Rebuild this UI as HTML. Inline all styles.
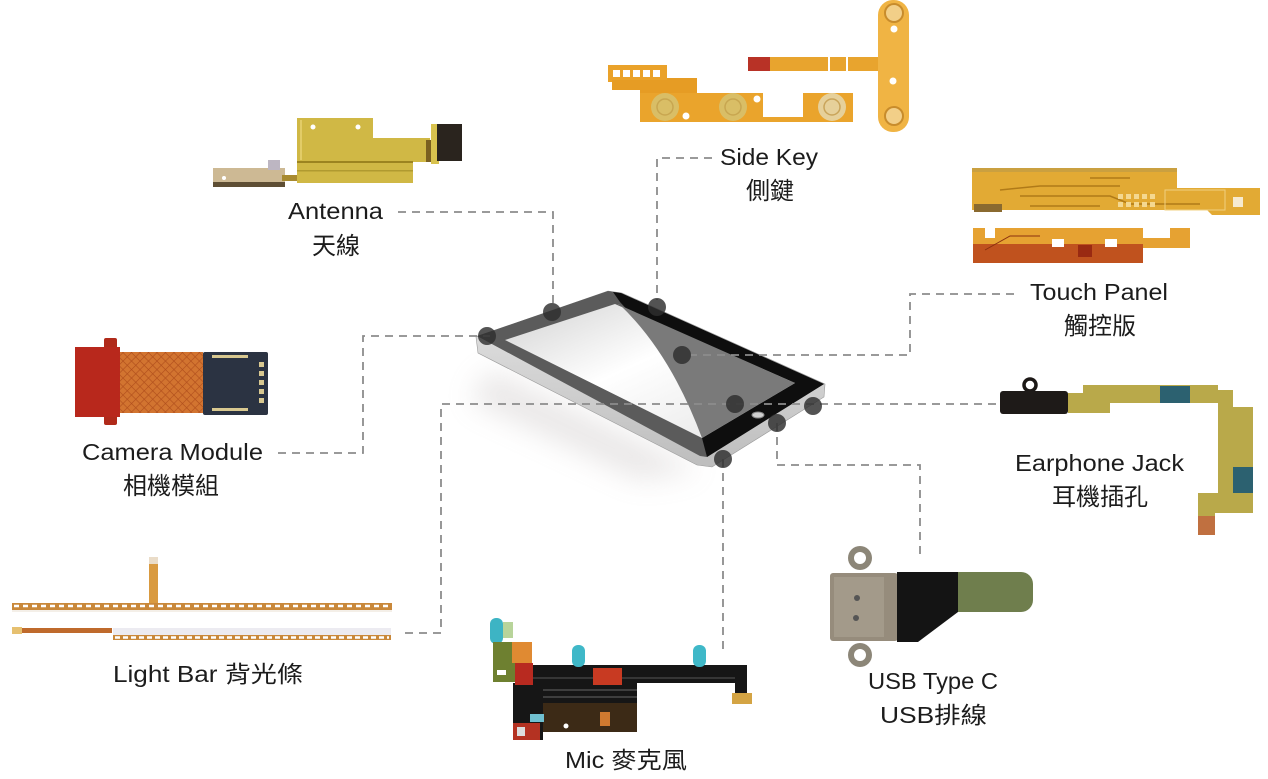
<!DOCTYPE html>
<html><head><meta charset="utf-8"><style>
html,body{margin:0;padding:0;background:#fff;}
svg{display:block;}
text{font-family:"Liberation Sans","Noto Sans CJK TC",sans-serif;fill:#1c1c1c;}
</style></head><body>
<svg width="1268" height="779" viewBox="0 0 1268 779" xmlns="http://www.w3.org/2000/svg">
<defs>
<linearGradient id="silver" x1="0" y1="0" x2="0" y2="1"><stop offset="0" stop-color="#e6e6e6"/><stop offset="1" stop-color="#bdbdbd"/></linearGradient>
<linearGradient id="scr" x1="0" y1="0" x2="1" y2="1"><stop offset="0" stop-color="#d2d2d2"/><stop offset="0.45" stop-color="#ffffff"/><stop offset="1" stop-color="#e4e4e4"/></linearGradient>
<filter id="blur" x="-50%" y="-50%" width="200%" height="200%"><feGaussianBlur stdDeviation="14"/></filter>
<pattern id="mesh" width="6" height="6" patternUnits="userSpaceOnUse" patternTransform="rotate(45)"><rect width="6" height="6" fill="#d27430"/><path d="M0,0 H6 M0,0 V6" stroke="#b04e1c" stroke-width="1.2"/></pattern>
</defs>

<!-- ANTENNA -->
<g>
<rect x="213" y="168" width="72" height="19" fill="#cdb994"/>
<rect x="213" y="182" width="72" height="5" fill="#5e4e34"/>
<circle cx="224" cy="178" r="2" fill="#fff"/>
<rect x="268" y="160" width="12" height="10" fill="#bdb6c2"/>
<rect x="282" y="175" width="16" height="6" fill="#a88a30"/>
<path d="M297,118 H373 V138 H430 V162 H413 V183 H297 Z" fill="#d0b845"/>
<rect x="297" y="161" width="116" height="2" fill="#9c8420"/>
<rect x="297" y="170" width="116" height="1.5" fill="#b09a30"/>
<rect x="300" y="120" width="2" height="40" fill="#e2cc68"/>
<circle cx="313" cy="127" r="2.5" fill="#fff"/>
<circle cx="358" cy="127" r="2.5" fill="#fff"/>
<rect x="426" y="140" width="6" height="22" fill="#7a6020"/>
<rect x="431" y="124" width="8" height="40" fill="#d8c24e"/>
<rect x="437" y="124" width="25" height="37" fill="#2a241e"/>
</g>

<!-- SIDE KEY -->
<g>
<rect x="608" y="65" width="59" height="17" fill="#eaa22a"/>
<g fill="#fff"><rect x="613" y="70" width="7" height="7"/><rect x="623" y="70" width="7" height="7"/><rect x="633" y="70" width="7" height="7"/><rect x="643" y="70" width="7" height="7"/><rect x="653" y="70" width="7" height="7"/></g>
<path d="M612,80 H667 V78 H697 V96 H640 V90 H612 Z" fill="#e69c24"/>
<path d="M640,93 H763 V117 H803 V93 H853 V122 H640 Z" fill="#eaa42c"/>
<circle cx="665" cy="107" r="14" fill="#d9be66"/><circle cx="665" cy="107" r="8" fill="none" stroke="#c8a650" stroke-width="1.5"/>
<circle cx="733" cy="107" r="14" fill="#d9be66"/><circle cx="733" cy="107" r="8" fill="none" stroke="#c8a650" stroke-width="1.5"/>
<circle cx="832" cy="107" r="14" fill="#e6d09a"/><circle cx="832" cy="107" r="8" fill="none" stroke="#c9a45a" stroke-width="1.5"/>
<circle cx="686" cy="116" r="3.5" fill="#fff"/><circle cx="757" cy="99" r="3.5" fill="#fff"/>
<rect x="748" y="57" width="22" height="14" fill="#b83226"/>
<rect x="770" y="57" width="110" height="14" fill="#e8a42e"/>
<rect x="828" y="57" width="2" height="14" fill="#fff"/><rect x="846" y="57" width="2" height="14" fill="#fff"/>
<rect x="878" y="0" width="31" height="132" rx="15" fill="#f0b444"/>
<circle cx="894" cy="13" r="9" fill="#f2cf88" stroke="#c88c2c" stroke-width="2"/>
<circle cx="894" cy="116" r="9" fill="#f2cf88" stroke="#c88c2c" stroke-width="2"/>
<circle cx="894" cy="29" r="3.5" fill="#fff"/><circle cx="893" cy="81" r="3.5" fill="#fff"/>
</g>

<!-- TOUCH PANEL -->
<g>
<path d="M972,168 H1177 V188 H1260 V215 H1212 L1207,210 H972 Z" fill="#e2aa34"/>
<rect x="972" y="168" width="205" height="4" fill="#caa040"/>
<path d="M1000,190 L1040,186 H1120 M1020,196 H1110 L1130,204 H1200 M1090,178 H1130 M1030,206 H1100" stroke="#b07a18" stroke-width="1.5" fill="none"/>
<g fill="#f4d890"><rect x="1118" y="194" width="5" height="5"/><rect x="1126" y="194" width="5" height="5"/><rect x="1134" y="194" width="5" height="5"/><rect x="1142" y="194" width="5" height="5"/><rect x="1150" y="194" width="5" height="5"/><rect x="1118" y="202" width="5" height="5"/><rect x="1126" y="202" width="5" height="5"/><rect x="1134" y="202" width="5" height="5"/><rect x="1142" y="202" width="5" height="5"/><rect x="1150" y="202" width="5" height="5"/></g>
<rect x="1165" y="190" width="60" height="20" fill="none" stroke="#f0d080" stroke-width="1"/>
<rect x="1233" y="197" width="10" height="10" fill="#f6ead0"/>
<rect x="974" y="204" width="28" height="8" fill="#8a6a30"/>
<path d="M973,228 H985 V238 H995 V228 H1143 V238 H1170 V228 H1190 V248 H1143 V263 H973 Z" fill="#e6a232"/>
<rect x="973" y="244" width="170" height="19" fill="#c0521e"/>
<path d="M985,250 L1010,236 H1040" stroke="#8a3010" stroke-width="1" fill="none"/>
<rect x="1052" y="239" width="12" height="8" fill="#fff"/>
<rect x="1105" y="239" width="12" height="8" fill="#fff"/>
<rect x="1078" y="245" width="14" height="12" fill="#9a2a12"/>
</g>

<!-- CAMERA -->
<g>
<rect x="104" y="338" width="13" height="87" rx="2" fill="#b02a1a"/>
<rect x="75" y="347" width="45" height="70" fill="#b8281c"/>
<rect x="120" y="352" width="83" height="61" fill="url(#mesh)"/>
<rect x="203" y="352" width="65" height="63" rx="2" fill="#2b3342"/>
<g fill="#d8c890"><rect x="259" y="362" width="5" height="5"/><rect x="259" y="371" width="5" height="5"/><rect x="259" y="380" width="5" height="5"/><rect x="259" y="389" width="5" height="5"/><rect x="259" y="398" width="5" height="5"/><rect x="212" y="355" width="36" height="3"/><rect x="212" y="408" width="36" height="3"/></g>
</g>

<!-- EARPHONE JACK -->
<g>
<path d="M1068,393 H1083 V385 H1218 V390 H1233 V407 H1253 V513 H1215 V535 H1198 V493 H1218 V403 H1110 V413 H1068 Z" fill="#b9a94a"/>
<rect x="1160" y="386" width="30" height="17" fill="#2c6170"/>
<rect x="1233" y="467" width="20" height="26" fill="#2c6170"/>
<rect x="1198" y="516" width="17" height="19" fill="#c07040"/>
<circle cx="1030" cy="385" r="6" fill="none" stroke="#1c1816" stroke-width="3.5"/>
<rect x="1000" y="391" width="68" height="23" rx="3" fill="#1e1a18"/>
</g>

<!-- LIGHT BAR -->
<g>
<rect x="149" y="557" width="9" height="48" fill="#d99a40"/>
<rect x="149" y="557" width="9" height="7" fill="#eadcc8"/>
<rect x="12" y="603" width="380" height="7" fill="#c9883a"/>
<line x1="14" y1="606" x2="390" y2="606" stroke="#fff" stroke-width="2.5" stroke-dasharray="5 4"/>
<rect x="12" y="610" width="380" height="2" fill="#f4efe8"/>
<rect x="12" y="628" width="100" height="5" fill="#bf6a2c"/>
<rect x="12" y="627" width="10" height="7" fill="#e6c070"/>
<rect x="113" y="628" width="278" height="12" fill="#ecebf1"/>
<rect x="113" y="635" width="278" height="5" fill="#c9883a"/>
<line x1="115" y1="637.5" x2="389" y2="637.5" stroke="#fff" stroke-width="2.5" stroke-dasharray="5 3"/>
</g>

<!-- MIC -->
<g>
<rect x="490" y="618" width="13" height="26" rx="6" fill="#3db4c4"/>
<rect x="503" y="622" width="10" height="16" fill="#b8d49a"/>
<rect x="493" y="642" width="22" height="40" fill="#6e8030"/>
<rect x="497" y="670" width="9" height="5" fill="#fff"/>
<rect x="512" y="642" width="20" height="21" fill="#e08a32"/>
<path d="M533,665 H747 V693 H735 V683 H637 V732 H543 V740 H513 V683 H533 Z" fill="#161616"/>
<rect x="515" y="663" width="18" height="22" fill="#b82a20"/>
<rect x="543" y="703" width="94" height="29" fill="#3c2a16"/>
<rect x="600" y="712" width="10" height="14" fill="#d07a30"/>
<circle cx="566" cy="726" r="2.5" fill="#fff"/>
<line x1="533" y1="678" x2="735" y2="678" stroke="#555" stroke-width="1"/>
<line x1="543" y1="690" x2="637" y2="690" stroke="#666" stroke-width="1"/>
<line x1="543" y1="697" x2="637" y2="697" stroke="#666" stroke-width="1"/>
<rect x="572" y="645" width="13" height="22" rx="6" fill="#3fb8c8"/>
<rect x="693" y="645" width="13" height="22" rx="6" fill="#3fb8c8"/>
<rect x="593" y="668" width="29" height="17" fill="#c83a22"/>
<rect x="732" y="693" width="20" height="11" fill="#d4a444"/>
<rect x="513" y="723" width="27" height="17" fill="#b43222"/>
<rect x="517" y="727" width="8" height="9" fill="#ddd"/>
<rect x="530" y="714" width="14" height="8" fill="#70c0d0"/>
</g>

<!-- USB -->
<g>
<circle cx="860" cy="558" r="12" fill="#8c8678"/><circle cx="860" cy="558" r="6" fill="#fff"/>
<circle cx="860" cy="655" r="12" fill="#8c8678"/><circle cx="860" cy="655" r="6" fill="#fff"/>
<rect x="830" y="573" width="68" height="68" rx="3" fill="#968c7c"/>
<rect x="834" y="577" width="50" height="60" fill="#a39a8a"/>
<circle cx="857" cy="598" r="3" fill="#555"/><circle cx="856" cy="618" r="3" fill="#555"/>
<path d="M897,572 H958 V612 L918,642 H897 Z" fill="#141414"/>
<path d="M958,572 H1021 A12,12 0 0 1 1033,584 V600 A12,12 0 0 1 1021,612 H958 Z" fill="#6f7e4d"/>
</g>

<!-- TABLET -->
<g>
<polygon points="490,370 700,470 640,480 470,400" fill="#b8b0b0" opacity="0.3" filter="url(#blur)"/>
<polygon points="476,337 608,291 622,293 825,384 824,397 712,467 697,465 478,353" fill="url(#silver)" stroke="#9a9a9a" stroke-width="0.6"/>
<polygon points="477,336 608,291 621,293 824,384 707,457 700,456" fill="#5b5b5b"/>
<path d="M613,292 L621,293 L824,384 L707,457 L702,438 Q668,352 620,302 Z" fill="#0e0e0e"/>
<polygon points="505,340 615,304 795,383 702,438" fill="url(#scr)"/>
<path d="M617,304 L795,383 L702,438 Q670,352 619,304 Z" fill="#7a7a7a"/>
<ellipse cx="758" cy="415" rx="6" ry="3" fill="#cfcfcf" stroke="#888" stroke-width="1"/>
</g>

<!-- CONNECTORS -->
<g fill="none" stroke="#8c8c8c" stroke-width="1.8" stroke-dasharray="8 6">
<path d="M398,212 H553 V305"/>
<path d="M712,158 H657 V300"/>
<path d="M1014,294 H910 V355 H690"/>
<path d="M278,453 H363 V336 H490"/>
<path d="M405,633 H441 V404 H1000"/>
<path d="M777,423 V465 H920 V555"/>
<path d="M723,459 V655"/>
</g>

<!-- DOTS -->
<g fill="#2e2e2e" opacity="0.82">
<circle cx="552" cy="312" r="9"/>
<circle cx="657" cy="307" r="9"/>
<circle cx="487" cy="336" r="9"/>
<circle cx="682" cy="355" r="9"/>
<circle cx="735" cy="404" r="9"/>
<circle cx="813" cy="406" r="9"/>
<circle cx="777" cy="423" r="9"/>
<circle cx="723" cy="459" r="9"/>
</g>

<!-- LABELS -->
<g font-size="23">
<text x="288" y="219" textLength="95" lengthAdjust="spacingAndGlyphs">Antenna</text>
<text x="336" y="254" text-anchor="middle" font-size="24">天線</text>
<text x="720" y="165" textLength="98" lengthAdjust="spacingAndGlyphs">Side Key</text>
<text x="770" y="199" text-anchor="middle" font-size="24">側鍵</text>
<text x="1030" y="300" textLength="138" lengthAdjust="spacingAndGlyphs">Touch Panel</text>
<text x="1100" y="334" text-anchor="middle" font-size="24">觸控版</text>
<text x="82" y="460" textLength="181" lengthAdjust="spacingAndGlyphs">Camera Module</text>
<text x="171" y="494" text-anchor="middle" font-size="24">相機模組</text>
<text x="1015" y="471" textLength="169" lengthAdjust="spacingAndGlyphs">Earphone Jack</text>
<text x="1100" y="505" text-anchor="middle" font-size="24">耳機插孔</text>
<text x="113" y="682" textLength="190" lengthAdjust="spacingAndGlyphs">Light Bar 背光條</text>
<text x="565" y="768" textLength="122" lengthAdjust="spacingAndGlyphs">Mic 麥克風</text>
<text x="868" y="689" textLength="130" lengthAdjust="spacingAndGlyphs">USB Type C</text>
<text x="880" y="723" textLength="107" lengthAdjust="spacingAndGlyphs">USB排線</text>
</g>
</svg>
</body></html>
